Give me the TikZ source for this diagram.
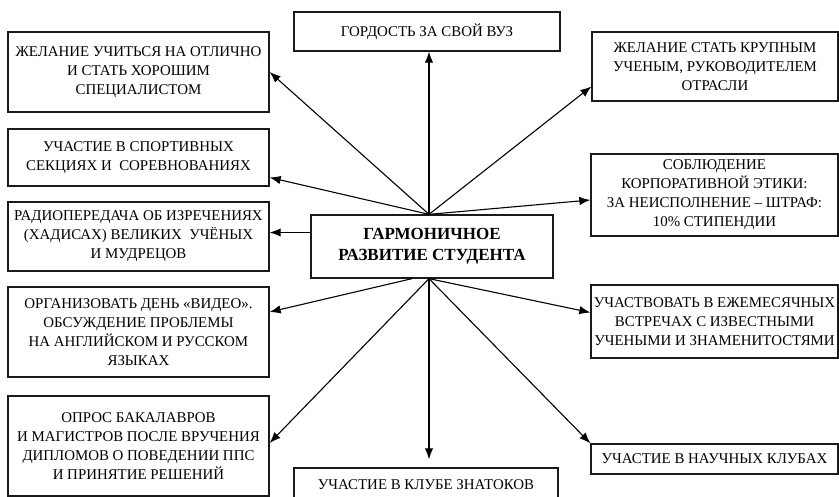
\documentclass[tikz,border=0pt]{standalone}
\usepackage{fontspec}
\setmainfont{Liberation Serif}
\usetikzlibrary{arrows.meta}
\definecolor{boxline}{HTML}{1A1A1A}

\begin{document}
\begin{tikzpicture}[x=1pt, y=-1pt,
    box/.style={draw=boxline, line width=1.3pt, align=center, inner sep=2pt, font=\fontsize{14.9}{19}\selectfont},
    hub/.style={box, font=\fontsize{17}{21}\selectfont\bfseries},
    arr/.style={draw=black, line width=1.1pt, -{Latex[length=11pt,width=8.5pt]}}]
    \clip (0,0) rectangle (839,497);

    % left column
    \node[box, minimum width=261pt, minimum height=80pt] (left1) at (138.5,72) {ЖЕЛАНИЕ УЧИТЬСЯ НА ОТЛИЧНО\\И СТАТЬ ХОРОШИМ\\СПЕЦИАЛИСТОМ};
    \node[box, minimum width=261pt, minimum height=57pt] (left2) at (138.5,157.5) {УЧАСТИЕ В СПОРТИВНЫХ\\СЕКЦИЯХ И \ СОРЕВНОВАНИЯХ};
    \node[box, minimum width=261pt, minimum height=69pt] (left3) at (138.5,236.5) {РАДИОПЕРЕДАЧА ОБ ИЗРЕЧЕНИЯХ\\(ХАДИСАХ) ВЕЛИКИХ \ УЧЁНЫХ\\И МУДРЕЦОВ};
    \node[box, minimum width=261pt, minimum height=90pt] (left4) at (138.5,332) {ОРГАНИЗОВАТЬ ДЕНЬ «ВИДЕО».\\ОБСУЖДЕНИЕ ПРОБЛЕМЫ\\НА АНГЛИЙСКОМ И РУССКОМ\\ЯЗЫКАХ};
    \node[box, minimum width=261pt, minimum height=100pt] (left5) at (138.5,446) {ОПРОС БАКАЛАВРОВ\\И МАГИСТРОВ ПОСЛЕ ВРУЧЕНИЯ\\ДИПЛОМОВ О ПОВЕДЕНИИ ППС\\И ПРИНЯТИЕ РЕШЕНИЙ};

    % middle column
    \node[box, minimum width=266pt, minimum height=39pt] (pride) at (427,31.5) {ГОРДОСТЬ ЗА СВОЙ ВУЗ};
    \node[hub, minimum width=242pt, minimum height=63pt] (hub) at (432,246.5) {ГАРМОНИЧНОЕ\\РАЗВИТИЕ СТУДЕНТА};
    \node[box, minimum width=264pt, minimum height=34pt] (quiz) at (426,485) {УЧАСТИЕ В КЛУБЕ ЗНАТОКОВ};

    % right column
    \node[box, minimum width=246pt, minimum height=69pt] (right1) at (715,66.5) {ЖЕЛАНИЕ СТАТЬ КРУПНЫМ\\УЧЕНЫМ, РУКОВОДИТЕЛЕМ\\ОТРАСЛИ};
    \node[box, minimum width=247pt, minimum height=82pt] (right2) at (714.5,195) {СОБЛЮДЕНИЕ\\КОРПОРАТИВНОЙ ЭТИКИ:\\ЗА НЕИСПОЛНЕНИЕ -- ШТРАФ:\\10\% СТИПЕНДИИ};
    \node[box, minimum width=247pt, minimum height=73pt] (right3) at (714.5,321.5) {УЧАСТВОВАТЬ В ЕЖЕМЕСЯЧНЫХ\\ВСТРЕЧАХ С ИЗВЕСТНЫМИ\\УЧЕНЫМИ И ЗНАМЕНИТОСТЯМИ};
    \node[box, minimum width=247pt, minimum height=30pt] (right4) at (714.5,459) {УЧАСТИЕ В НАУЧНЫХ КЛУБАХ};

    % arrows out of the hub
    \coordinate (hubleft) at ([yshift=14pt]hub.west);
    \draw[arr] ([xshift=-3pt]hub.north) -- (left1.east);
    \draw[arr] ([xshift=-3pt]hub.north) -- ([yshift=-20pt]left2.east);
    \draw[arr] (hubleft) -- (hubleft -| left3.east);
    \draw[arr] ([xshift=-3pt]hub.north) -- ([xshift=-3pt]hub.north |- pride.south);
    \draw[arr] ([xshift=-3pt]hub.north) -- ([yshift=-20pt]right1.west);
    \draw[arr] ([xshift=-3pt]hub.north) -- ([yshift=-5pt]right2.west);
    \draw[arr] ([xshift=-20pt]hub.south) -- ([yshift=20pt]left4.east);
    \draw[arr] ([xshift=-3pt]hub.south) -- ([yshift=3pt]left5.east);
    \draw[arr, shorten >=8pt] ([xshift=-3pt]hub.south) -- ([xshift=-3pt]hub.south |- quiz.north);
    \draw[arr] ([xshift=-3pt]hub.south) -- ([yshift=9pt]right3.west);
    \draw[arr] ([xshift=-3pt]hub.south) -- (right4.north west);
\end{tikzpicture}
\end{document}
